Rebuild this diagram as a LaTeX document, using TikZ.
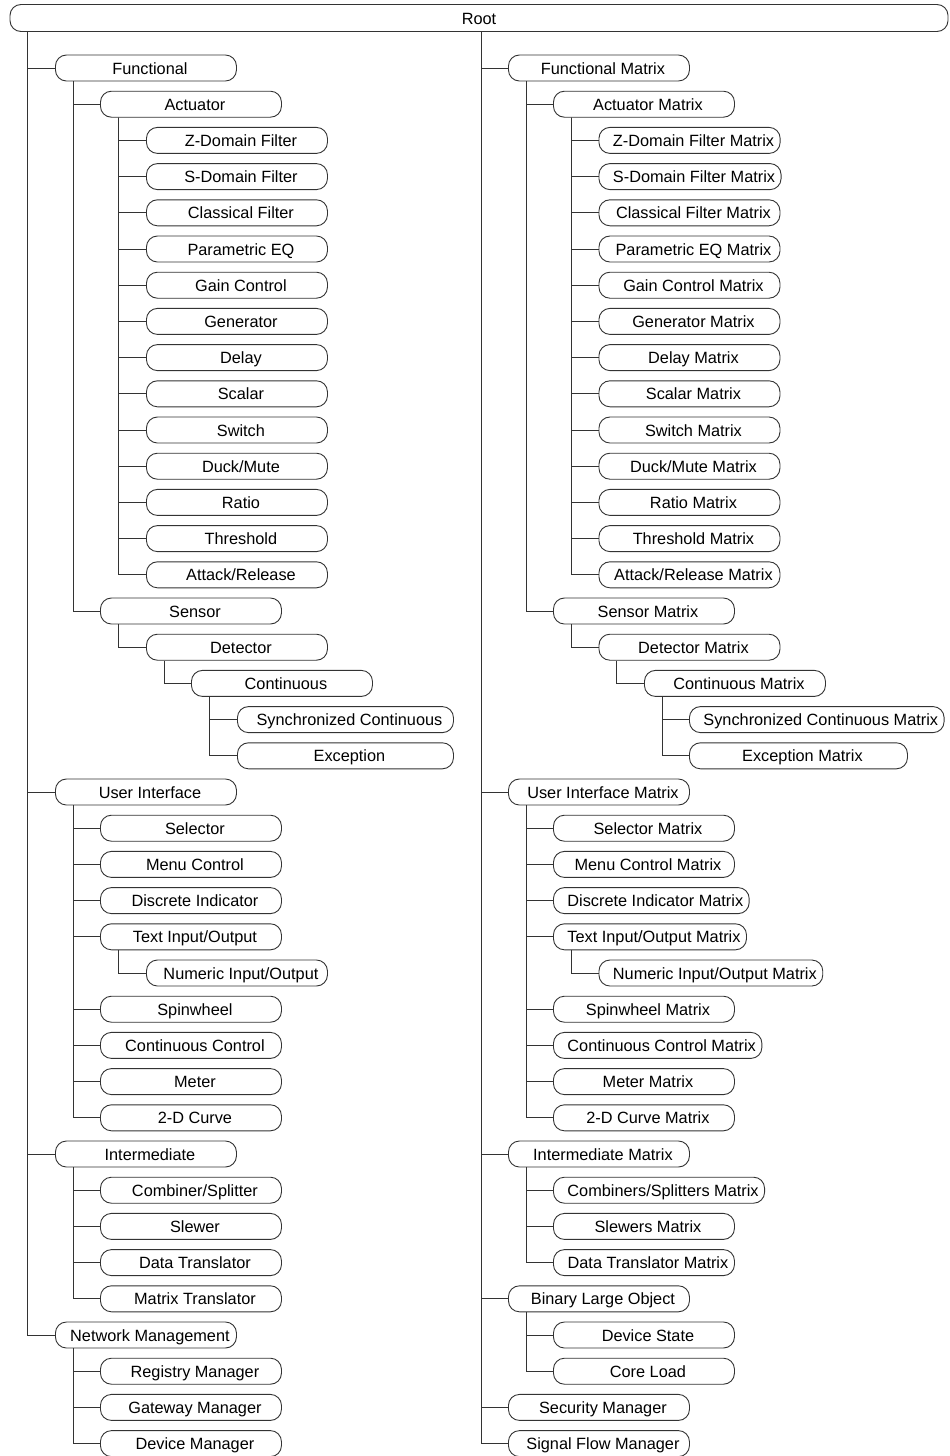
\documentclass[tikz,border=0pt]{standalone}
\usepackage{fontspec}
\setmainfont{Liberation Sans}
\tikzset{
  bx/.style={draw=black!80, line width=0.9pt, rounded corners=11pt, minimum height=26pt,
    inner ysep=0pt, inner xsep=6pt, text height=12pt, text depth=0pt,
    font=\fontsize{16.3}{19}\selectfont, fill=white},
  ln/.style={draw=black!80, line width=0.9pt}
}
\newcommand\bx[5][181]{\node[bx,minimum width=#1,anchor=west] (#2) at (#3,{68+36.2*(#4)}) {\hspace{8pt}#5};}
\newcommand\cn[2]{\draw[ln] ([xshift=18pt]#1.south west) |- (#2.west);}
\begin{document}
\begin{tikzpicture}[x=1pt,y=-1pt]
\useasboundingbox (0,0) rectangle (950,1456);
\node[bx, minimum width=938, minimum height=27, inner xsep=0pt] (root) at (479,18) {Root};
\coordinate (rl) at (27,31.5);
\coordinate (rr) at (481,31.5);
% ---------------- left column
\bx{f}{55}{0}{Functional}
\bx{fa}{100}{1}{Actuator}
\bx{fa1}{146}{2}{Z-Domain Filter}
\bx{fa2}{146}{3}{S-Domain Filter}
\bx{fa3}{146}{4}{Classical Filter}
\bx{fa4}{146}{5}{Parametric EQ}
\bx{fa5}{146}{6}{Gain Control}
\bx{fa6}{146}{7}{Generator}
\bx{fa7}{146}{8}{Delay}
\bx{fa8}{146}{9}{Scalar}
\bx{fa9}{146}{10}{Switch}
\bx{fa10}{146}{11}{Duck/Mute}
\bx{fa11}{146}{12}{Ratio}
\bx{fa12}{146}{13}{Threshold}
\bx{fa13}{146}{14}{Attack/Release}
\bx{fs}{100}{15}{Sensor}
\bx{fsd}{146}{16}{Detector}
\bx{fsdc}{191}{17}{Continuous}
\bx[216]{fsdc1}{237}{18}{Synchronized Continuous}
\bx[216]{fsdc2}{237}{19}{Exception}
\bx{u}{55}{20}{User Interface}
\bx{u1}{100}{21}{Selector}
\bx{u2}{100}{22}{Menu Control}
\bx{u3}{100}{23}{Discrete Indicator}
\bx{u4}{100}{24}{Text Input/Output}
\bx{u4a}{146}{25}{Numeric Input/Output}
\bx{u5}{100}{26}{Spinwheel}
\bx{u6}{100}{27}{Continuous Control}
\bx{u7}{100}{28}{Meter}
\bx{u8}{100}{29}{2-D Curve}
\bx{i}{55}{30}{Intermediate}
\bx{i1}{100}{31}{Combiner/Splitter}
\bx{i2}{100}{32}{Slewer}
\bx{i3}{100}{33}{Data Translator}
\bx{i4}{100}{34}{Matrix Translator}
\bx{n}{55}{35}{Network Management}
\bx{n1}{100}{36}{Registry Manager}
\bx{n2}{100}{37}{Gateway Manager}
\bx{n3}{100}{38}{Device Manager}
% ---------------- right column
\bx{mf}{508}{0}{Functional Matrix}
\bx{mfa}{553}{1}{Actuator Matrix}
\bx{mfa1}{598.5}{2}{Z-Domain Filter Matrix}
\bx{mfa2}{598.5}{3}{S-Domain Filter Matrix}
\bx{mfa3}{598.5}{4}{Classical Filter Matrix}
\bx{mfa4}{598.5}{5}{Parametric EQ Matrix}
\bx{mfa5}{598.5}{6}{Gain Control Matrix}
\bx{mfa6}{598.5}{7}{Generator Matrix}
\bx{mfa7}{598.5}{8}{Delay Matrix}
\bx{mfa8}{598.5}{9}{Scalar Matrix}
\bx{mfa9}{598.5}{10}{Switch Matrix}
\bx{mfa10}{598.5}{11}{Duck/Mute Matrix}
\bx{mfa11}{598.5}{12}{Ratio Matrix}
\bx{mfa12}{598.5}{13}{Threshold Matrix}
\bx{mfa13}{598.5}{14}{Attack/Release Matrix}
\bx{mfs}{553}{15}{Sensor Matrix}
\bx{mfsd}{598.5}{16}{Detector Matrix}
\bx{mfsdc}{644}{17}{Continuous Matrix}
\bx[218]{mfsdc1}{689}{18}{Synchronized Continuous Matrix}
\bx[218]{mfsdc2}{689}{19}{Exception Matrix}
\bx{mu}{508}{20}{User Interface Matrix}
\bx{mu1}{553}{21}{Selector Matrix}
\bx{mu2}{553}{22}{Menu Control Matrix}
\bx{mu3}{553}{23}{Discrete Indicator Matrix}
\bx{mu4}{553}{24}{Text Input/Output Matrix}
\bx{mu4a}{598.5}{25}{Numeric Input/Output Matrix}
\bx{mu5}{553}{26}{Spinwheel Matrix}
\bx{mu6}{553}{27}{Continuous Control Matrix}
\bx{mu7}{553}{28}{Meter Matrix}
\bx{mu8}{553}{29}{2-D Curve Matrix}
\bx{mi}{508}{30}{Intermediate Matrix}
\bx{mi1}{553}{31}{Combiners/Splitters Matrix}
\bx{mi2}{553}{32}{Slewers Matrix}
\bx{mi3}{553}{33}{Data Translator Matrix}
\bx{mb}{508}{34}{Binary Large Object}
\bx{mb1}{553}{35}{Device State}
\bx{mb2}{553}{36}{Core Load}
\bx{ms}{508}{37}{Security Manager}
\bx{mg}{508}{38}{Signal Flow Manager}
% ---------------- connectors
\foreach \c in {f,u,i,n} {\draw[ln] (rl) |- (\c.west);}
\foreach \c in {mf,mu,mi,mb,ms,mg} {\draw[ln] (rr) |- (\c.west);}
\cn{f}{fa}\cn{f}{fs}
\foreach \k in {1,...,13} {\cn{fa}{fa\k}}
\cn{fs}{fsd}\cn{fsd}{fsdc}\cn{fsdc}{fsdc1}\cn{fsdc}{fsdc2}
\foreach \k in {1,...,8} {\cn{u}{u\k}}
\cn{u4}{u4a}
\foreach \k in {1,...,4} {\cn{i}{i\k}}
\foreach \k in {1,...,3} {\cn{n}{n\k}}
\cn{mf}{mfa}\cn{mf}{mfs}
\foreach \k in {1,...,13} {\cn{mfa}{mfa\k}}
\cn{mfs}{mfsd}\cn{mfsd}{mfsdc}\cn{mfsdc}{mfsdc1}\cn{mfsdc}{mfsdc2}
\foreach \k in {1,...,8} {\cn{mu}{mu\k}}
\cn{mu4}{mu4a}
\foreach \k in {1,...,3} {\cn{mi}{mi\k}}
\cn{mb}{mb1}\cn{mb}{mb2}
\end{tikzpicture}
\end{document}
